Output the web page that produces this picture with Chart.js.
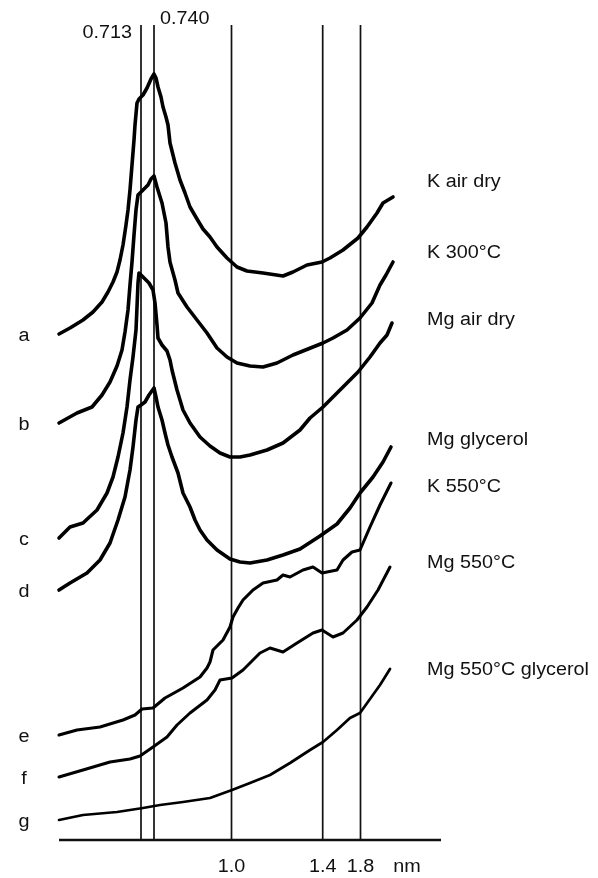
<!DOCTYPE html>
<html>
<head>
<meta charset="utf-8">
<script src="https://cdn.jsdelivr.net/npm/chart.js@4/dist/chart.umd.min.js"></script>
<style>
  body { margin: 0; background: #fff; }
  canvas { display: block; }
</style>
</head>
<body>
<canvas id="xrd" width="598" height="878"></canvas>
<script>
// scan position (arbitrary units along the trace) and intensity (offset, arbitrary units)
var refPositions = [82, 95, 172.5, 263.7, 301.5];
var refLabels = ['0.713', '0.740', '1.0', '1.4', '1.8'];

var traceLetters = ['a', 'b', 'c', 'd', 'e', 'f', 'g'];
var sampleNames = ['K air dry', 'K 300°C', 'Mg air dry', 'Mg glycerol', 'K 550°C', 'Mg 550°C', 'Mg 550°C glycerol'];

var traceA = [[0,506],[11,512],[24,520],[34,528],[43,538],[49,548],[54,558],[58,568],[61,580],[64,595],
  [67,615],[69,630],[71,650],[73,675],[75,700],[76,715],[78,737],[80,741],[84,745],[88,752],
  [92,761],[95,766],[97,762],[99,753],[102,743],[104,733],[107,723],[109,715],[111,697],[116,677],
  [121,660],[126,647],[131,633],[138,621],[144,611],[151,603],[158,593],[168,582],[178,573],[188,569],
  [204,567],[224,564],[234,568],[248,575],[263,578],[271,582],[284,590],[299,602],[308,613],[318,627],
  [324,637],[334,643]];

var traceB = [[0,417],[18,427],[33,433],[43,445],[51,458],[58,474],[63,490],[66,508],[69,530],[71,555],
  [73,578],[75,605],[77,630],[79,645],[84,650],[89,655],[92,661],[95,664],[98,653],[103,637],
  [107,617],[109,593],[111,578],[116,560],[119,547],[128,533],[138,520],[148,507],[158,492],[168,483],
  [178,477],[191,474],[204,473],[218,477],[234,485],[254,493],[264,497],[274,502],[288,510],[301,522],
  [313,537],[321,555],[327,565],[334,578]];

var traceC = [[0,302],[11,313],[24,317],[38,330],[48,347],[54,363],[59,383],[64,407],[68,433],[71,460],
  [74,483],[77,510],[78,533],[79,557],[80,567],[84,563],[90,557],[94,550],[96,537],[98,515],
  [99,502],[103,495],[108,489],[111,480],[113,470],[118,450],[124,430],[131,417],[141,403],[151,394],
  [161,387],[171,383],[181,383],[191,385],[208,390],[224,397],[241,410],[251,422],[264,433],[281,450],
  [299,468],[311,483],[321,497],[328,505],[333,517]];

var traceD = [[0,250],[11,257],[28,267],[41,280],[51,297],[59,320],[66,343],[71,370],[74,393],[77,420],
  [79,433],[82,435],[86,438],[90,445],[95,452],[97,443],[99,433],[103,420],[106,407],[109,395],
  [113,383],[119,367],[124,347],[131,333],[136,320],[141,310],[148,300],[158,290],[171,281],[181,278],
  [191,277],[208,280],[224,285],[241,291],[261,304],[278,316],[291,332],[301,347],[314,363],[324,378],
  [332,393]];

var traceE = [[0,105],[18,110],[41,113],[64,120],[76,125],[83,131],[94,132],[106,142],[124,152],[141,163],
  [148,172],[151,178],[154,190],[164,200],[171,213],[174,223],[179,232],[184,240],[194,250],[204,257],
  [218,260],[224,265],[231,263],[244,270],[254,273],[263,267],[278,270],[284,280],[293,288],[301,290],
  [311,313],[321,335],[332,357]];

var traceF = [[0,63],[24,70],[51,78],[71,81],[81,84],[94,93],[108,103],[118,115],[131,127],[148,140],
  [156,150],[161,160],[173,162],[184,170],[201,187],[211,192],[224,188],[238,197],[254,207],[263,210],
  [274,203],[284,207],[298,220],[308,233],[319,250],[331,273]];

var traceG = [[0,20],[24,25],[58,28],[84,32],[101,35],[124,38],[151,42],[173,50],[191,57],[211,65],
  [231,77],[251,90],[264,98],[278,110],[291,122],[301,127],[311,141],[321,155],[331,171]];

var traces = [traceA, traceB, traceC, traceD, traceE, traceF, traceG];
var widths = [3.6, 3.6, 3.6, 3.6, 3.1, 3.0, 2.7];

var FONT = '"Liberation Sans", Arial, Helvetica, sans-serif';

// the scanned lettering is a bit wider than the font, so stretch it a little
function stretchedText(ctx, s, x, y, align) {
  ctx.save();
  ctx.translate(x, y);
  ctx.scale(1.1, 1);
  ctx.textAlign = align;
  ctx.fillText(s, 0, 0);
  ctx.restore();
}

// reference lines, baseline and all the lettering
const decorations = {
  id: 'decorations',
  beforeDatasetsDraw(chart) {
    const { ctx, chartArea, scales: { x, y } } = chart;
    const base = y.getPixelForValue(0);
    ctx.save();
    ctx.strokeStyle = '#111';
    ctx.lineWidth = 1.7;
    refPositions.forEach(function (p) {
      var px = x.getPixelForValue(p);
      ctx.beginPath();
      ctx.moveTo(px, chartArea.top);
      ctx.lineTo(px, base);
      ctx.stroke();
    });
    ctx.lineWidth = 2.6;
    ctx.beginPath();
    ctx.moveTo(chartArea.left, base);
    ctx.lineTo(chartArea.right, base);
    ctx.stroke();
    ctx.restore();
  },
  afterDatasetsDraw(chart) {
    const { ctx, scales: { x, y } } = chart;
    ctx.save();
    ctx.fillStyle = '#111';
    ctx.font = '18px ' + FONT;
    ctx.textBaseline = 'middle';

    // top labels for the two peaks
    stretchedText(ctx, refLabels[0], x.getPixelForValue(refPositions[0]) - 9, 33, 'right');
    stretchedText(ctx, refLabels[1], x.getPixelForValue(refPositions[1]) + 6, 19, 'left');

    // bottom tick labels
    for (var i = 2; i < refLabels.length; i++) {
      stretchedText(ctx, refLabels[i], x.getPixelForValue(refPositions[i]), 867, 'center');
    }
    stretchedText(ctx, 'nm', 407, 867, 'center');

    // letters next to the start of each trace
    traces.forEach(function (t, k) {
      stretchedText(ctx, traceLetters[k], 24, y.getPixelForValue(t[0][1]) + 2, 'center');
    });

    // sample names on the right
    var nameY = [182, 253, 320, 440, 487, 563, 670];
    sampleNames.forEach(function (n, k) {
      stretchedText(ctx, n, 427, nameY[k], 'left');
    });
    ctx.restore();
  }
};

new Chart(document.getElementById('xrd'), {
  type: 'line',
  data: {
    datasets: traces.map(function (t, k) {
      return {
        label: sampleNames[k],
        data: t.map(function (p) { return { x: p[0], y: p[1] }; }),
        borderColor: '#000',
        borderWidth: widths[k],
        pointRadius: 0,
        tension: 0,
        borderJoinStyle: 'round',
        borderCapStyle: 'round',
        fill: false,
        clip: false
      };
    })
  },
  options: {
    responsive: false,
    animation: false,
    layout: { padding: { left: 59, right: 157, top: 25, bottom: 38 } },
    plugins: { legend: { display: false }, tooltip: { enabled: false } },
    scales: {
      x: { type: 'linear', min: 0, max: 382, display: false },
      y: { type: 'linear', min: 0, max: 815, display: false }
    }
  },
  plugins: [decorations]
});
</script>
</body>
</html>
